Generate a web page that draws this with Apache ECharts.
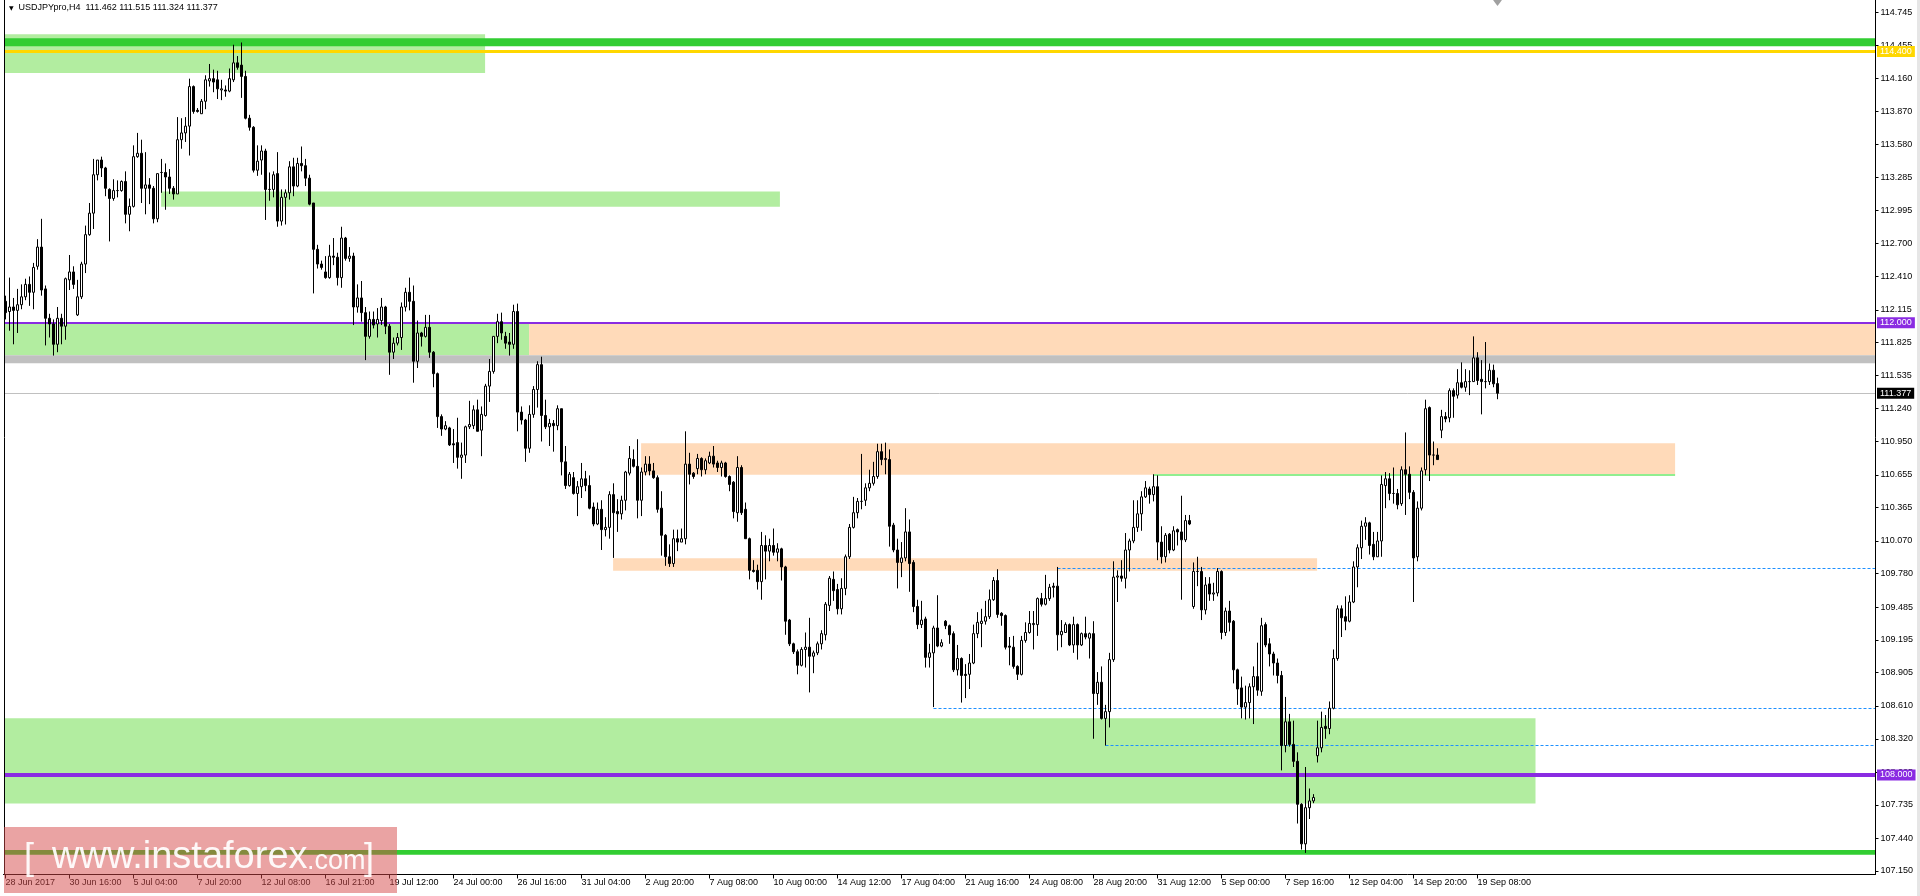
<!DOCTYPE html>
<html><head><meta charset="utf-8">
<script src="https://cdn.jsdelivr.net/npm/echarts@6/dist/echarts.min.js"></script>
<style>html,body{margin:0;padding:0;background:#fff;overflow:hidden}#c{width:1920px;height:896px}</style>
</head><body><div id="c"></div>
<script>
const symbolName = 'USDJPYpro';
const timeframe = 'H4';

const open = [
112.19,112.10,112.14,112.11,112.16,112.23,112.34,112.27,112.50,112.67,
112.30,112.04,111.99,111.81,112.04,111.97,112.38,112.45,112.07,112.23,
112.52,112.78,112.97,113.31,113.44,113.37,113.18,113.10,113.17,113.17,
113.25,112.96,113.03,113.47,113.50,113.19,113.22,113.19,112.92,113.33,
113.33,113.29,113.19,113.14,113.62,113.68,113.74,114.09,113.88,113.85,
113.96,114.14,114.16,114.15,114.06,114.06,114.05,114.15,114.30,114.28,
114.18,113.81,113.73,113.35,113.44,113.52,113.18,113.18,113.32,112.90,
113.11,113.15,113.38,113.21,113.41,113.39,113.28,113.06,112.65,112.52,
112.45,112.40,112.59,112.58,112.40,112.75,112.57,112.59,112.14,112.22,
112.09,111.88,112.03,111.99,112.02,112.14,111.97,111.74,111.82,111.87,
112.14,112.27,112.19,111.66,111.91,111.88,111.96,111.74,111.55,111.17,
111.06,111.07,110.93,110.94,110.81,110.83,111.08,111.09,111.23,111.05,
111.18,111.44,111.57,111.88,112.01,111.88,111.83,111.81,112.10,111.21,
111.14,110.89,111.19,111.41,111.63,111.18,111.08,111.11,111.09,111.24,
110.77,110.56,110.63,110.49,110.55,110.62,110.56,110.37,110.22,110.35,
110.17,110.19,110.48,110.33,110.31,110.43,110.67,110.79,110.73,110.43,
110.68,110.75,110.69,110.63,110.36,110.12,109.93,109.87,110.09,110.06,
110.09,110.75,110.67,110.71,110.80,110.70,110.76,110.82,110.76,110.72,
110.76,110.64,110.59,110.32,110.72,110.35,110.09,109.81,109.81,109.71,
110.03,109.98,110.03,109.97,110.00,109.84,109.37,109.16,109.09,108.97,
109.11,109.13,109.05,109.08,109.16,109.24,109.50,109.73,109.64,109.47,
109.65,109.93,110.19,110.32,110.42,110.43,110.54,110.58,110.64,110.86,
110.79,110.79,110.21,109.99,109.88,109.92,110.15,109.88,109.49,109.33,
109.38,109.04,109.08,109.30,109.14,109.36,109.32,109.25,108.93,109.03,
108.89,108.89,108.99,109.25,109.34,109.36,109.40,109.55,109.72,109.43,
109.41,109.14,109.13,108.96,108.89,109.19,109.26,109.33,109.33,109.56,
109.51,109.56,109.67,109.67,109.24,109.26,109.33,109.15,109.33,109.15,
109.25,109.21,109.25,108.72,108.82,108.50,108.56,109.02,109.75,109.76,
109.74,109.99,110.07,110.19,110.31,110.46,110.53,110.48,110.55,110.06,
109.93,110.13,109.99,110.17,110.15,110.08,110.25,109.49,109.80,109.80,
109.46,109.69,109.60,109.61,109.80,109.26,109.45,109.36,108.93,108.77,
108.60,108.64,108.78,108.87,108.74,109.33,109.16,109.07,108.99,108.88,
108.26,108.47,108.27,108.12,107.74,107.39,107.71,107.77,108.17,108.24,
108.43,108.41,108.59,109.03,109.47,109.40,109.36,109.53,109.84,110.01,
110.20,110.23,110.04,109.93,110.07,110.56,110.62,110.49,110.49,110.40,
110.70,110.66,110.50,109.93,110.36,110.70,111.25,110.83,110.83,111.05,
111.17,111.16,111.40,111.36,111.47,111.43,111.48,111.48,111.69,111.50,
111.48,111.48,111.58,111.462];

const close = [
112.09,112.14,112.11,112.16,112.23,112.34,112.27,112.49,112.67,112.29,
112.04,111.99,111.81,112.04,111.97,112.39,112.45,112.34,112.23,112.52,
112.78,112.97,113.31,113.44,113.37,113.19,113.10,113.17,113.17,113.25,
112.96,113.03,113.47,113.50,113.19,113.22,113.19,112.92,113.32,113.33,
113.29,113.19,113.14,113.62,113.68,113.74,114.09,113.87,113.87,113.96,
114.15,114.16,114.13,114.07,114.07,114.05,114.16,114.30,114.26,114.18,
113.81,113.73,113.35,113.43,113.52,113.18,113.18,113.31,112.90,113.11,
113.15,113.38,113.21,113.41,113.39,113.28,113.05,112.65,112.52,112.49,
112.40,112.59,112.58,112.40,112.75,112.57,112.59,112.14,112.22,112.09,
111.88,112.03,111.98,112.03,112.14,111.97,111.74,111.82,111.87,112.14,
112.27,112.19,111.66,111.91,111.88,111.96,111.74,111.55,111.17,111.06,
111.09,110.92,110.92,110.81,110.83,111.08,111.10,111.23,111.04,111.19,
111.44,111.57,111.88,112.01,111.91,111.82,111.81,112.10,111.21,111.14,
110.89,111.19,111.41,111.63,111.18,111.08,111.11,111.09,111.24,110.77,
110.56,110.66,110.49,110.55,110.62,110.56,110.36,110.22,110.35,110.17,
110.19,110.48,110.32,110.31,110.43,110.68,110.80,110.73,110.43,110.68,
110.75,110.69,110.63,110.35,110.12,109.93,109.87,110.09,110.06,110.09,
110.75,110.66,110.64,110.80,110.70,110.78,110.82,110.75,110.72,110.76,
110.64,110.57,110.33,110.72,110.32,110.09,109.81,109.80,109.71,110.03,
109.98,110.03,109.97,110.00,109.84,109.36,109.16,109.09,108.97,109.11,
109.13,109.05,109.08,109.16,109.25,109.51,109.74,109.63,109.47,109.65,
109.93,110.19,110.32,110.42,110.42,110.54,110.58,110.64,110.86,110.79,
110.80,110.20,109.99,109.88,109.92,110.15,109.87,109.49,109.33,109.37,
109.04,109.08,109.30,109.14,109.17,109.32,109.24,108.93,109.03,108.88,
108.88,108.99,109.25,109.35,109.36,109.40,109.55,109.72,109.42,109.41,
109.13,109.13,108.96,108.89,109.19,109.26,109.34,109.34,109.56,109.51,
109.56,109.66,109.66,109.24,109.27,109.33,109.15,109.33,109.15,109.25,
109.22,109.25,108.72,108.82,108.50,108.56,109.02,109.75,109.76,109.74,
109.99,110.07,110.19,110.31,110.46,110.54,110.48,110.55,110.06,109.93,
110.12,109.99,110.16,110.15,110.08,110.25,110.22,109.80,109.80,109.46,
109.68,109.60,109.61,109.80,109.26,109.45,109.35,108.93,108.76,108.60,
108.64,108.78,108.87,108.75,109.32,109.15,109.07,108.99,108.88,108.26,
108.47,108.27,108.12,107.74,107.39,107.71,107.77,107.80,108.24,108.42,
108.41,108.59,109.03,109.47,109.39,109.36,109.53,109.84,110.01,110.20,
110.23,110.03,109.93,110.07,110.57,110.62,110.49,110.49,110.39,110.70,
110.66,110.50,109.92,110.36,110.69,111.24,110.83,110.83,110.79,111.17,
111.15,111.40,111.35,111.47,111.43,111.48,111.48,111.69,111.49,111.48,
111.48,111.58,111.46,111.377];

const high = [
112.24,112.40,112.22,112.30,112.34,112.39,112.41,112.53,112.74,112.92,
112.33,112.08,112.03,112.14,112.08,112.40,112.60,112.50,112.38,112.54,
112.86,113.06,113.45,113.44,113.47,113.38,113.19,113.27,113.26,113.26,
113.34,113.10,113.57,113.68,113.62,113.51,113.28,113.21,113.32,113.45,
113.41,113.36,113.21,113.82,113.81,113.82,114.16,114.10,113.90,113.98,
114.19,114.29,114.24,114.23,114.15,114.10,114.25,114.46,114.36,114.48,
114.23,113.84,113.74,113.57,113.57,113.54,113.33,113.34,113.51,113.18,
113.18,113.43,113.46,113.46,113.56,113.45,113.31,113.06,112.69,112.55,
112.59,112.69,112.75,112.62,112.85,112.76,112.67,112.62,112.34,112.37,
112.14,112.10,112.10,112.13,112.22,112.15,111.99,111.87,111.91,112.18,
112.31,112.40,112.33,112.02,111.92,112.07,112.07,111.75,111.56,111.19,
111.13,111.08,111.06,111.16,110.94,111.09,111.31,111.27,111.32,111.26,
111.46,111.68,111.88,112.08,112.09,111.92,111.91,112.16,112.17,111.26,
111.15,111.27,111.44,111.66,111.70,111.32,111.15,111.14,111.27,111.24,
110.91,110.68,110.68,110.60,110.76,110.69,110.65,110.41,110.41,110.43,
110.28,110.51,110.58,110.44,110.47,110.69,110.91,110.88,110.97,110.72,
110.82,110.82,110.76,110.65,110.51,110.13,110.04,110.17,110.17,110.18,
111.04,110.85,110.68,110.84,110.81,110.80,110.86,110.91,110.78,110.78,
110.77,110.65,110.60,110.82,110.74,110.41,110.10,109.90,109.86,110.15,
110.12,110.09,110.18,110.05,110.01,109.85,109.38,109.17,109.11,109.13,
109.26,109.39,109.10,109.18,109.28,109.53,109.76,109.80,109.69,109.74,
109.95,110.22,110.46,110.45,110.84,110.58,110.70,110.77,110.93,110.93,
110.94,110.88,110.23,110.09,110.06,110.36,110.26,109.90,109.55,109.54,
109.40,109.16,109.32,109.59,109.20,109.37,109.33,109.27,109.15,109.04,
108.98,109.07,109.33,109.44,109.47,109.54,109.64,109.75,109.82,109.44,
109.42,109.22,109.23,108.97,109.23,109.35,109.45,109.45,109.57,109.61,
109.77,109.69,109.70,109.84,109.37,109.35,109.34,109.40,109.34,109.26,
109.40,109.26,109.36,108.91,108.96,108.62,109.08,109.89,109.81,109.90,
110.14,110.09,110.43,110.43,110.51,110.60,110.55,110.66,110.65,110.20,
110.14,110.14,110.20,110.18,110.47,110.30,110.30,109.88,109.93,109.84,
109.75,109.75,109.70,109.83,109.81,109.48,109.54,109.37,108.94,108.87,
108.79,108.81,108.96,109.17,109.39,109.35,109.21,109.09,109.03,108.92,
108.69,108.54,108.48,108.20,107.75,108.07,107.88,107.83,108.48,108.56,
108.53,108.65,109.11,109.50,109.50,109.58,109.59,109.89,110.04,110.25,
110.28,110.24,110.15,110.15,110.65,110.68,110.67,110.72,110.53,110.73,
111.03,110.73,110.52,110.42,110.72,111.32,111.26,110.95,110.89,111.23,
111.21,111.42,111.42,111.59,111.65,111.59,111.58,111.88,111.74,111.67,
111.83,111.64,111.63,111.515];

const low = [
112.03,111.93,111.81,111.91,112.12,112.20,112.15,112.12,112.47,112.24,
111.80,111.87,111.71,111.74,111.81,111.85,112.29,112.30,112.06,112.21,
112.44,112.77,112.83,113.26,113.29,113.12,112.72,113.08,113.11,113.16,
112.88,112.81,113.02,113.46,113.06,112.96,113.05,112.88,112.89,113.15,
113.00,113.14,113.09,113.14,113.54,113.60,113.48,113.85,113.86,113.85,
113.89,114.09,114.04,113.98,113.97,114.00,114.04,114.13,114.24,113.99,
113.80,113.70,113.33,113.30,113.31,112.91,113.08,113.11,112.85,112.86,
112.87,113.09,113.12,113.20,113.34,113.21,113.04,112.26,112.48,112.47,
112.39,112.39,112.51,112.33,112.31,112.55,112.54,111.98,112.09,112.01,
111.67,111.86,111.95,111.87,111.98,111.90,111.54,111.68,111.80,111.76,
112.10,112.11,111.47,111.60,111.79,111.87,111.69,111.43,111.07,111.00,
111.05,110.91,110.76,110.71,110.62,110.76,111.06,111.06,111.04,110.82,
111.17,111.30,111.55,111.82,111.85,111.77,111.71,111.77,111.04,111.10,
110.77,110.85,111.16,111.25,110.95,111.06,110.91,110.86,111.05,110.65,
110.53,110.55,110.48,110.29,110.45,110.51,110.35,110.20,110.21,109.99,
110.11,110.09,109.92,110.15,110.26,110.34,110.65,110.72,110.27,110.29,
110.65,110.65,110.62,110.32,109.94,109.85,109.84,109.84,109.98,110.06,
110.04,110.57,110.62,110.66,110.64,110.66,110.75,110.72,110.68,110.64,
110.63,110.51,110.27,110.24,110.30,110.09,109.73,109.79,109.64,109.55,
109.73,109.89,109.94,109.89,109.72,109.24,109.14,109.07,108.89,108.96,
108.95,108.73,108.90,109.06,109.11,109.19,109.45,109.54,109.42,109.42,
109.59,109.91,110.18,110.27,110.35,110.38,110.51,110.56,110.62,110.74,
110.66,110.02,109.97,109.65,109.75,109.89,109.62,109.44,109.29,109.30,
108.95,108.95,108.60,109.13,109.13,109.29,109.16,108.91,108.88,108.64,
108.68,108.76,108.98,109.21,109.13,109.33,109.38,109.54,109.39,109.32,
109.11,108.97,108.94,108.84,108.88,109.17,109.25,109.11,109.23,109.49,
109.50,109.54,109.57,109.10,109.13,109.26,109.14,109.08,109.02,109.14,
109.20,109.03,108.32,108.62,108.49,108.26,108.42,109.00,109.53,109.71,
109.65,109.80,110.05,110.15,110.16,110.45,110.40,110.42,109.90,109.87,
109.88,109.96,109.98,110.03,109.55,110.06,110.21,109.47,109.67,109.37,
109.42,109.54,109.54,109.58,109.20,109.23,109.27,108.81,108.62,108.50,
108.49,108.50,108.45,108.70,108.70,109.13,108.96,108.88,108.81,108.04,
108.20,108.25,108.07,107.57,107.34,107.31,107.61,107.75,108.11,108.20,
108.32,108.36,108.58,109.01,109.22,109.28,109.35,109.52,109.66,109.91,
110.08,109.95,109.90,109.93,109.93,110.36,110.43,110.40,110.35,110.38,
110.30,110.44,109.53,109.89,110.34,110.65,110.60,110.74,110.79,110.98,
111.12,111.12,111.16,111.33,111.42,111.39,111.36,111.48,111.45,111.19,
111.42,111.45,111.43,111.324];

const tickLabels = ['28 Jun 2017','30 Jun 16:00','5 Jul 04:00','7 Jul 20:00','12 Jul 08:00','16 Jul 21:00',
  '19 Jul 12:00','24 Jul 00:00','26 Jul 16:00','31 Jul 04:00','2 Aug 20:00','7 Aug 08:00','10 Aug 00:00',
  '14 Aug 12:00','17 Aug 04:00','21 Aug 16:00','24 Aug 08:00','28 Aug 20:00','31 Aug 12:00','5 Sep 00:00',
  '7 Sep 16:00','12 Sep 04:00','14 Sep 20:00','19 Sep 08:00'];
const tickBars = [0,16,32,48,64,80,96,112,128,144,160,176,192,208,224,240,256,272,288,304,320,336,352,368];
const priceTicks = [114.745,114.455,114.160,113.870,113.580,113.285,112.995,112.700,112.410,112.115,111.825,
  111.535,111.240,110.950,110.655,110.365,110.070,109.780,109.485,109.195,108.905,108.610,108.320,108.025,
  107.735,107.440,107.150];

// zones: [fromBar, toBar, lowPrice, highPrice]  ('start' / 'end' = chart edges)
const greenZones = [['start',119.9,114.211,114.553],[38.9,193.6,113.026,113.162],['start',130.9,111.714,112.000],['start',382.5,107.747,108.502]];
const peachZones = [[130.9,'end',111.714,112.000],[158.9,417.4,110.655,110.935],[151.9,327.9,109.806,109.918]];
const silverBand = [111.643,111.714];
const limeBands = [[114.447,114.518],[107.294,107.336]];
const goldLevel = 114.400;
const violetLevels = [112.000,108.000];
const greenLine = [287,417.4,110.655];
const dashedLevels = [[263,109.83],[232,108.59],[275,108.26]];

const Y_MIN = 107.119, Y_MAX = 114.856;
const X_FIRST = -0.375, X_LAST = 467.375;
const FONT = '"Liberation Sans", Arial, sans-serif';
const GREEN='#B2EDA0', PEACH='#FFDAB9', SILVER='#C0C0C0', LIME='#32CD32', GOLD='#FFD700', VIOLET='#8A2BE2', BLUE='#1E90FF', LGREEN='#90EE90';

const ex = v => v === 'start' ? X_FIRST : (v === 'end' ? X_LAST : v);
const candleData = open.map((o,i)=>[i,o,close[i],low[i],high[i]]);
const last = open.length - 1;
const tickMap = {}; tickBars.forEach((b,k)=>{ tickMap[b] = tickLabels[k]; });

const areas = [];
const band = (x0,x1,lo,hi,color)=>[{xAxis:ex(x0),yAxis:hi,itemStyle:{color:color,opacity:1,borderWidth:0}},{xAxis:ex(x1),yAxis:lo}];
greenZones.forEach(z=>areas.push(band(z[0],z[1],z[2],z[3],GREEN)));
peachZones.forEach(z=>areas.push(band(z[0],z[1],z[2],z[3],PEACH)));
areas.push(band('start','end',silverBand[0],silverBand[1],SILVER));
limeBands.forEach(b=>areas.push(band('start','end',b[0],b[1],LIME)));

const tag = (bg,v)=>({show:true,position:'end',distance:2,formatter:v.toFixed(3),color:'#fff',backgroundColor:bg,
  padding:[1,3,1,3],fontSize:9,lineHeight:9,fontFamily:FONT});
const hline = (x0,x1,y,ls,label)=>[{xAxis:ex(x0),yAxis:y,lineStyle:ls,label:label||{show:false}},{xAxis:ex(x1),yAxis:y}];
const lines = [];
dashedLevels.forEach(d=>lines.push(hline(d[0],'end',d[1],{color:BLUE,width:1,type:[3,2]})));
lines.push(hline(greenLine[0],greenLine[1],greenLine[2],{color:LGREEN,width:2,type:'solid'}));
lines.push(hline('start','end',close[last],{color:SILVER,width:1,type:'solid'},tag('#000',close[last])));
lines.push(hline('start','end',goldLevel,{color:GOLD,width:3,type:'solid'},tag(GOLD,goldLevel)));
violetLevels.forEach((v,k)=>lines.push(hline('start','end',v,{color:VIOLET,width:k===0?2:4,type:'solid'},tag(VIOLET,v))));

const f3 = v => v.toFixed(3);
const titleText = '{t|▼}  ' + symbolName + ',' + timeframe + '  ' + [open[last],high[last],low[last],close[last]].map(f3).join(' ');

const chart = echarts.init(document.getElementById('c'), null, {renderer:'canvas', width:1920, height:896});
chart.setOption({
  animation:false,
  backgroundColor:'#ffffff',
  title:{text:titleText,left:9,top:3.5,padding:0,
    textStyle:{fontSize:9,lineHeight:9,fontWeight:'normal',color:'#000',fontFamily:FONT,
      rich:{t:{fontSize:6,lineHeight:9,fontFamily:'"DejaVu Sans", sans-serif',color:'#000'}}}},
  grid:{left:3.5,right:44.5,top:0,bottom:21.5,containLabel:false},
  xAxis:{type:'value',min:-0.5,max:467.5,
    axisLine:{show:true,onZero:false,lineStyle:{color:'#000',width:1}},
    axisTick:{show:true,customValues:tickBars,length:4,lineStyle:{color:'#000'}},
    axisLabel:{customValues:tickBars,formatter:v=>tickMap[v]||'',align:'left',margin:4,
      color:'#000',fontSize:9,fontFamily:FONT,hideOverlap:false},
    splitLine:{show:false}},
  yAxis:{type:'value',position:'right',min:Y_MIN,max:Y_MAX,scale:true,
    axisLine:{show:true,onZero:false,lineStyle:{color:'#000',width:1}},
    axisTick:{show:true,customValues:priceTicks,length:3,lineStyle:{color:'#000'}},
    axisLabel:{customValues:priceTicks,formatter:v=>v.toFixed(3),margin:5,color:'#000',fontSize:9,fontFamily:FONT},
    splitLine:{show:false}},
  series:[{
    type:'candlestick',data:candleData,barWidth:2,silent:true,clip:false,
    itemStyle:{color:'#ffffff',color0:'#000000',borderColor:'#000000',borderColor0:'#000000',borderColorDoji:'#000000',borderWidth:1},
    emphasis:{disabled:true},
    markArea:{silent:true,z:1,data:areas},
    markLine:{silent:true,z:1.5,symbol:['none','none'],animation:false,label:{show:false},emphasis:{disabled:true},data:lines},
    markPoint:{silent:true,symbol:'triangle',symbolSize:[9,6],symbolRotate:180,itemStyle:{color:'#A0A0A0'},label:{show:false},
      data:[{coord:[last,114.83]}]}
  }],
  graphic:[
    {type:'rect',silent:true,z:90,shape:{x:1917,y:0,width:3,height:896},style:{fill:'#E6E6E6'}},
    {type:'line',silent:true,z:90,shape:{x1:4.5,y1:0,x2:4.5,y2:875},style:{stroke:'#000',lineWidth:1}},
    {type:'rect',silent:true,z:100,shape:{x:4,y:827,width:393,height:66},style:{fill:'rgba(214,72,72,0.5)'}},
    {type:'text',silent:true,z:101,style:{text:'[',x:24,y:859,fontSize:36,fontFamily:FONT,fill:'rgba(255,255,255,0.92)',align:'left',verticalAlign:'middle'}},
    {type:'text',silent:true,z:101,style:{text:'www.instaforex',x:52,y:858,fontSize:38,fontFamily:FONT,fill:'rgba(255,255,255,0.92)',align:'left',verticalAlign:'middle'}},
    {type:'text',silent:true,z:101,style:{text:'.com',x:307,y:862,fontSize:27,fontFamily:FONT,fill:'rgba(255,255,255,0.92)',align:'left',verticalAlign:'middle'}},
    {type:'text',silent:true,z:101,style:{text:']',x:364,y:859,fontSize:36,fontFamily:FONT,fill:'rgba(255,255,255,0.92)',align:'left',verticalAlign:'middle'}}
  ]
});
</script>
</body></html>
